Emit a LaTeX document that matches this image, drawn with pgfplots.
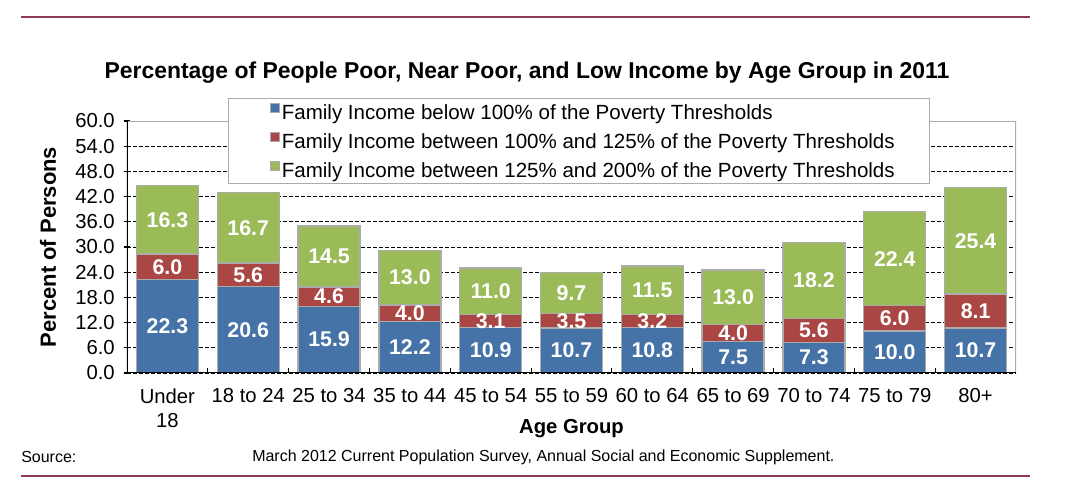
\documentclass[border=0pt]{standalone}
\usepackage{fontspec}
\setmainfont{Liberation Sans}
\usepackage{pgfplots}
\usepackage{pgfplotstable}
\pgfplotsset{compat=1.18}
\definecolor{cblue}{HTML}{4572A7}
\definecolor{cred}{HTML}{AA4643}
\definecolor{cgreen}{HTML}{9BBB59}
\definecolor{maroonline}{HTML}{8C3A55}
\definecolor{bord}{HTML}{ABABAB}
\pgfplotstableread{
x b r g
0 22.3 6.0 16.3
1 20.6 5.6 16.7
2 15.9 4.6 14.5
3 12.2 4.0 13.0
4 10.9 3.1 11.0
5 10.7 3.5 9.7
6 10.8 3.2 11.5
7 7.5 4.0 13.0
8 7.3 5.6 18.2
9 10.0 6.0 22.4
10 10.7 8.1 25.4
}\data
\begin{document}
\begin{tikzpicture}
\useasboundingbox (0,0) rectangle (810.75pt,363pt);
\draw[maroonline, line width=1.5pt] (15.75pt,350.25pt) -- (772.5pt,350.25pt);
\draw[maroonline, line width=1.5pt] (15.75pt,6pt) -- (772.5pt,6pt);
\node[font=\fontsize{17.2}{19}\selectfont\bfseries] at (395.25pt,308.25pt) {Percentage of People Poor, Near Poor, and Low Income by Age Group in 2011};
\node[anchor=west, inner sep=0pt, font=\fontsize{12}{14}\selectfont] at (15.75pt,20.25pt) {Source:};
\node[anchor=west, inner sep=0pt, font=\fontsize{12}{14}\selectfont] at (189pt,20.25pt) {March 2012 Current Population Survey, Annual Social and Economic Supplement.};
\begin{axis}[
  at={(95.25pt,83.25pt)}, anchor=south west,
  scale only axis, width=666.75pt, height=189pt,
  xmin=-0.5, xmax=10.5, ymin=0, ymax=60,
  axis line style={draw=none},
  tick pos=left,
  tick align=center,
  major tick length=5pt,
  /pgf/number format/.cd, fixed, fixed zerofill, precision=1, assume math mode=true,
  /pgfplots/.cd,
  ytick={0,6,12,18,24,30,36,42,48,54,60},
  yticklabel style={font=\fontsize{15.2}{17}\selectfont, inner sep=0pt, xshift=-6.5pt},
  ymajorgrids,
  grid style={black, line width=0.5pt, dash pattern=on 3pt off 1.5pt},
  ytick style={black, line width=0.8pt},
  xtick={0,1,2,3,4,5,6,7,8,9,10},
  xticklabels={{Under\\18},{18 to 24},{25 to 34},{35 to 44},{45 to 54},{55 to 59},{60 to 64},{65 to 69},{70 to 74},{75 to 79},{80+}},
  xticklabel style={align=center, font=\fontsize{15.2}{17.8}\selectfont, inner sep=0pt, anchor=north, yshift=-9pt},
  xtick style={draw=none},
  extra x ticks={0.5,1.5,2.5,3.5,4.5,5.5,6.5,7.5,8.5,9.5},
  extra x tick labels={},
  extra x tick style={tick align=inside, major tick length=4pt, xtick style={draw=black, line width=0.8pt}},
  xlabel={Age Group},
  xlabel style={font=\fontsize{15.2}{17}\selectfont\bfseries, at={(axis description cs:0.5,-0.222)}, anchor=center},
  ylabel={Percent of Persons},
  ylabel style={font=\fontsize{16.5}{18}\selectfont\bfseries, at={(axis description cs:-0.0889,0.5)}, anchor=center},
  legend cell align=left,
  legend image code/.code={\path (-7.5pt,0pt); \draw[#1, draw=bord, line width=0.4pt] (0pt,-0.5pt) rectangle (6.8pt,6.3pt);},
  legend style={at={(axis description cs:0.1136,1.0913)}, anchor=north west, draw=bord, fill=white,
    font=\fontsize{15.4}{17}\selectfont, inner xsep=24pt, inner ysep=1pt, row sep=3.75pt,
    nodes={inner sep=1.5pt, text height=13.5pt, text depth=1.5pt}},
  every node near coord/.append style={anchor=center, text=white, font=\fontsize{16}{18}\selectfont\bfseries},
]
\addplot[ybar, bar width=46.5pt, bar shift=0pt, fill=cgreen, draw=bord, line width=1pt, forget plot]
  table[x=x, y expr=\thisrow{b}+\thisrow{r}+\thisrow{g}] {\data};
\addplot[ybar, bar width=46.5pt, bar shift=0pt, fill=cred, draw=bord, line width=1pt, forget plot]
  table[x=x, y expr=\thisrow{b}+\thisrow{r}] {\data};
\addplot[ybar, bar width=46.5pt, bar shift=0pt, fill=cblue, draw=bord, line width=1pt, forget plot]
  table[x=x, y=b] {\data};
\addplot[draw=none, mark=none, nodes near coords, point meta=explicit, forget plot]
  table[x=x, y expr=\thisrow{b}/2, meta=b] {\data};
\addplot[draw=none, mark=none, nodes near coords, point meta=explicit, forget plot]
  table[x=x, y expr=\thisrow{b}+\thisrow{r}/2, meta=r] {\data};
\addplot[draw=none, mark=none, nodes near coords, point meta=explicit, forget plot]
  table[x=x, y expr=\thisrow{b}+\thisrow{r}+\thisrow{g}/2, meta=g] {\data};
\draw[bord, line width=0.8pt] (rel axis cs:0,1) -- (rel axis cs:1,1) -- (rel axis cs:1,0);
\draw[black, line width=1.1pt] (rel axis cs:0,1) -- (rel axis cs:0,0) -- (rel axis cs:1,0);
\addlegendimage{fill=cblue}
\addlegendentry{Family Income below 100\% of the Poverty Thresholds}
\addlegendimage{fill=cred}
\addlegendentry{Family Income between 100\% and 125\% of the Poverty Thresholds}
\addlegendimage{fill=cgreen}
\addlegendentry{Family Income between 125\% and 200\% of the Poverty Thresholds}
\end{axis}
\end{tikzpicture}
\end{document}
